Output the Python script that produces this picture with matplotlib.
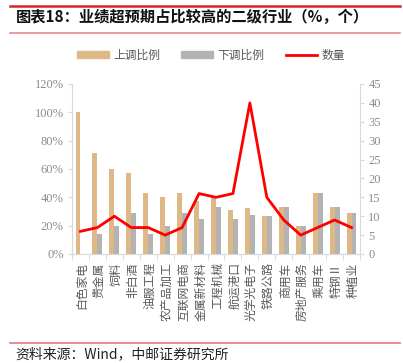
import matplotlib
matplotlib.use("Agg")
import matplotlib.pyplot as plt
import numpy as np
from matplotlib.lines import Line2D
from matplotlib.patches import Patch

plt.rcParams['font.family'] = ['Noto Sans CJK SC', 'DejaVu Sans']

categories = ["白色家电", "贵金属", "饲料", "非白酒", "油服工程", "农产品加工", "互联网电商",
              "金属新材料", "工程机械", "航运港口", "光学光电子", "铁路公路", "商用车",
              "房地产服务", "乘用车", "特钢Ⅱ", "种植业"]
up_ratio = [100, 71.4, 60, 57.1, 42.9, 40, 42.9, 37.5, 40, 31.25, 32.5, 26.7, 33.3, 20, 42.9, 33.3, 28.6]
down_ratio = [0, 14.3, 20, 28.6, 14.3, 20, 28.6, 25, 33.3, 25, 27.5, 26.7, 33.3, 20, 42.9, 33.3, 28.6]
count = [6, 7, 10, 7, 7, 5, 7, 16, 15, 16, 40, 15, 9, 5, 7, 9, 7]
left_ticks = [0, 20, 40, 60, 80, 100, 120]
right_ticks = [0, 5, 10, 15, 20, 25, 30, 35, 40, 45]

W, H = 403, 363
fig = plt.figure(figsize=(W / 100, H / 100), dpi=100)

gold = "#DEB887"
grey = "#B3B3B3"
red = "#FF0000"
axis_c = "#D9D9D9"
tick_c = "#8C8C8C"

ax = fig.add_axes([72 / W, 1 - 254 / H, (360 - 72) / W, (254 - 84) / H])
x = np.arange(len(categories))
bw = 0.29
ax.bar(x - bw / 2, up_ratio, width=bw, color=gold, zorder=2)
ax.bar(x + bw / 2, down_ratio, width=bw, color=grey, zorder=2)
ax.set_xlim(-0.5, len(categories) - 0.5)
ax.set_ylim(0, 120)
ax.set_yticks(left_ticks)
ax.set_yticklabels([f"{v}%" for v in left_ticks], family=['Liberation Serif'], fontsize=9, color=tick_c)
ax.tick_params(axis='y', length=3, color=axis_c, pad=3)
ax.set_xticks(x + 0.1)
ax.set_xticklabels(categories, fontsize=8.5, color="#595959", rotation=90,
                   ha='center', va='top')
ax.tick_params(axis='x', length=0, pad=6)
ax.set_xticks(np.arange(len(categories) + 1) - 0.5, minor=True)
ax.tick_params(axis='x', which='minor', length=4, color=axis_c)
for s in ['top', 'right']:
    ax.spines[s].set_visible(False)
for s in ['left', 'bottom']:
    ax.spines[s].set_color(axis_c)

ax2 = ax.twinx()
ax2.plot(x, count, color=red, lw=2, zorder=3)
ax2.set_ylim(0, 45)
ax2.set_yticks(right_ticks)
ax2.set_yticklabels([str(v) for v in right_ticks], family=['Liberation Serif'], fontsize=9, color=tick_c)
ax2.tick_params(axis='y', length=3, color=axis_c, pad=3)
for s in ['top', 'left', 'bottom']:
    ax2.spines[s].set_visible(False)
ax2.spines['right'].set_color(axis_c)

handles = [Patch(color=gold), Patch(color=grey), Line2D([0], [0], color=red, lw=2)]
fig.legend(handles, ["上调比例", "下调比例", "数量"], loc='center', bbox_to_anchor=(211 / W, 1 - 55 / H),
           ncol=3, frameon=False, fontsize=8.5, labelcolor="#595959", handlelength=2.7,
           handleheight=0.5, columnspacing=1.8, handletextpad=0.35)

# decorations
fig.add_artist(Line2D([10 / W, 400 / W], [1 - 5.5 / H, 1 - 5.5 / H], color="#D9262B", lw=1.8))
fig.add_artist(Line2D([10 / W, 400 / W], [1 - 32.5 / H, 1 - 32.5 / H], color="#E8898B", lw=1.2))
fig.text(16 / W, 1 - 16.5 / H, "图表18：业绩超预期占比较高的二级行业（%，个）", fontsize=11,
         fontweight='bold', color="#111111", va='center', ha='left')
fig.add_artist(Line2D([10 / W, 400 / W], [1 - 342.5 / H, 1 - 342.5 / H], color="#E07A7C", lw=1.2))
fig.text(15 / W, 1 - 354 / H, "资料来源：Wind，中邮证券研究所", fontsize=10, color="#222222",
         va='center', ha='left')

fig.savefig("out.png", dpi=100)
